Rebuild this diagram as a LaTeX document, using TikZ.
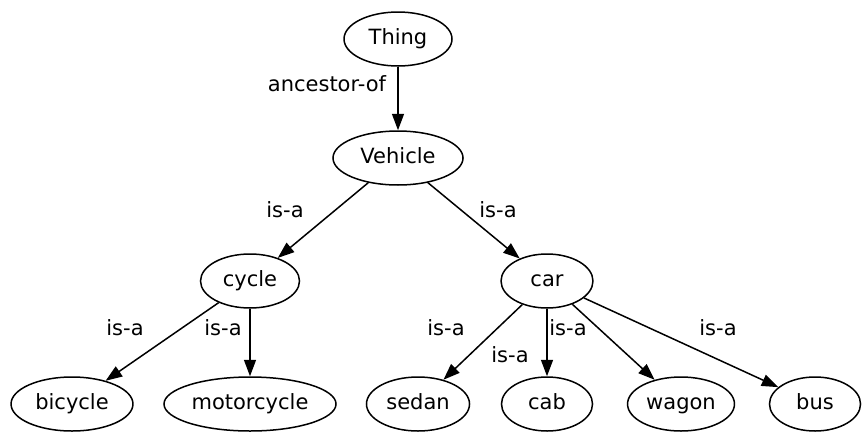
\documentclass[tikz,border=0pt]{standalone}
\usepackage{fontspec}
\setmainfont{DejaVu Sans}
\usetikzlibrary{shapes.geometric,arrows.meta}

\begin{document}
\begin{tikzpicture}[x=0.6667pt, y=-0.6667pt, >={Triangle[length=11pt,width=8pt]}]
  % Styles du graphe
  \tikzset{
    concept/.style={draw, ellipse, line width=1pt,
      font=\fontsize{14}{16.8}\selectfont,
      inner sep=0pt, minimum width=#1, minimum height=36pt,
      text height=11pt, text depth=3.5pt},
    isa/.style={->, line width=1pt},
    lbl/.style={font=\fontsize{14}{16.8}\selectfont, inner sep=0pt}
  }

  % Cadre de l'image
  \useasboundingbox (0,0) rectangle (863,437);

  % --- Concepts (rangs de haut en bas) ---
  \node[concept=72pt] (thing)   at (398,39)  {Thing};
  \node[concept=86.7pt] (vehicle) at (398,158) {Vehicle};

  \node[concept=66pt] (cycle) at (250,281) {cycle};
  \node[concept=61.3pt] (car)   at (547,281) {car};

  \node[concept=81.3pt] (bicycle)    at (72,404)  {bicycle};
  \node[concept=114.7pt] (motorcycle) at (250,404) {motorcycle};
  \node[concept=68.7pt] (sedan)      at (418,404) {sedan};
  \node[concept=60.7pt] (cab)        at (547,404) {cab};
  \node[concept=71.3pt] (wagon)      at (681,404) {wagon};
  \node[concept=60.7pt] (bus)        at (815,404) {bus};

  % --- Relations ---
  \draw[isa] (thing) -- (vehicle);
  \draw[isa] (vehicle) -- (cycle);
  \draw[isa] (vehicle) -- (car);
  \draw[isa] (cycle) -- (bicycle);
  \draw[isa] (cycle) -- (motorcycle);
  \draw[isa] (car) -- (sedan);
  \draw[isa] (car) -- (cab);
  \draw[isa] (car) -- (wagon);
  \draw[isa] (car) -- (bus);

  % --- Etiquettes des relations ---
  \node[lbl] (l-vehicle)    at (327,84)  {ancestor-of};
  \node[lbl] (l-cycle)      at (285,210) {is-a};
  \node[lbl] (l-car)        at (498,210) {is-a};
  \node[lbl] (l-bicycle)    at (125,328) {is-a};
  \node[lbl] (l-motorcycle) at (223,328) {is-a};
  \node[lbl] (l-sedan)      at (446,328) {is-a};
  \node[lbl] (l-cab)        at (510,355) {is-a};
  \node[lbl] (l-wagon)      at (568,328) {is-a};
  \node[lbl] (l-bus)        at (718,328) {is-a};

\end{tikzpicture}
\end{document}
